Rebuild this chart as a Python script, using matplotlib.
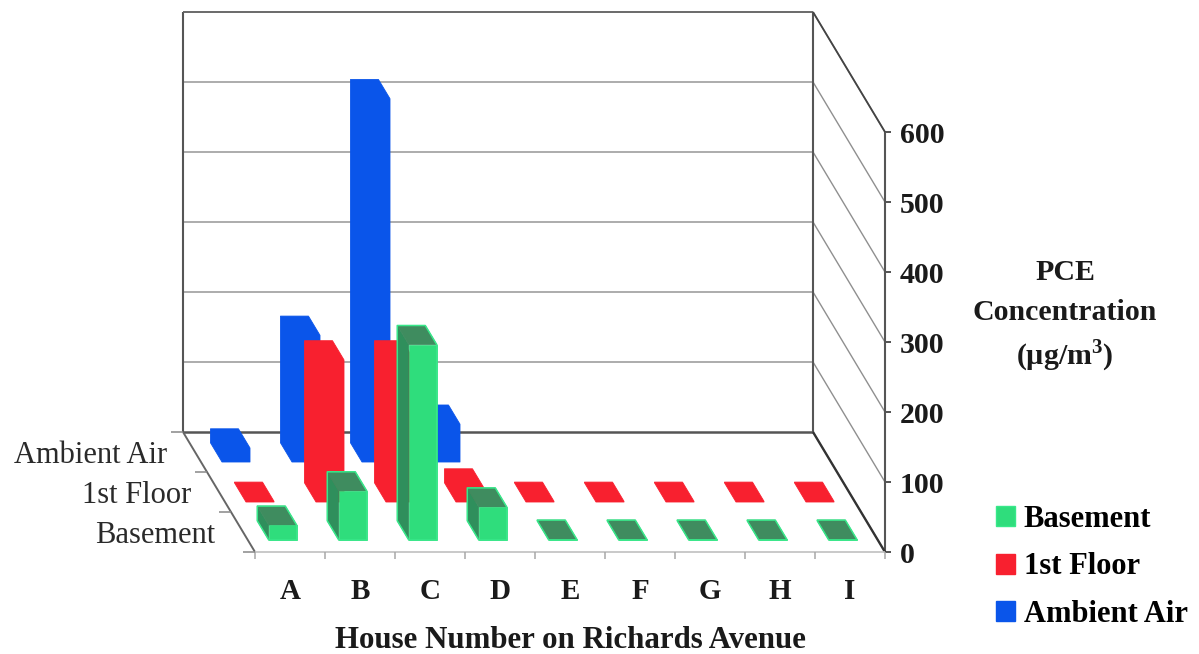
import matplotlib
matplotlib.use("Agg")
import matplotlib.pyplot as plt
from matplotlib.patches import Polygon, Patch

houses = ["A", "B", "C", "D", "E", "F", "G", "H", "I"]
rows = ["Basement", "1st Floor", "Ambient Air"]
basement = [21, 70, 279, 47, 1, 1, 1, 1, 1]
first_floor = [1, 203, 203, 20, 1, 1, 1, 1, 1]
ambient = [20, 181, 519, 54, 0, 0, 0, 0, 0]
y_ticks = [0, 100, 200, 300, 400, 500, 600]
y_label = ["PCE", "Concentration", "(µg/m$^{\\mathbf{3}}$)"]
x_label = "House Number on Richards Avenue"

W, H = 1199, 654
PX_X, PX_Y = 70.0, 0.7          # pixels per house / per µg/m3
DX, DY = -24 / PX_X, 40 / PX_Y  # shift, in data units, per depth row
NX, ND, YTOP = len(houses), len(rows), 600
FS = 21.5

plt.rcParams["font.family"] = ["Liberation Serif", "DejaVu Serif"]
plt.rcParams["mathtext.fontset"] = "custom"
plt.rcParams["mathtext.bf"] = "Liberation Serif:bold"
plt.rcParams["mathtext.rm"] = "Liberation Serif"

fig = plt.figure(figsize=(W / 100, H / 100), dpi=100)
ax = fig.add_axes([0, 0, 1, 1])
ax.set_xlim(-255 / PX_X, (W - 255) / PX_X)
ax.set_ylim(-(H - 552) / PX_Y, 552 / PX_Y)
ax.axis("off")


def pr(x, v, d):
    """Oblique projection of (house, value, depth) into the axes' data units."""
    return (x + DX * d, v + DY * d)


def line(p, q, color="#808080", lw=1.2, z=1):
    ax.plot([p[0], q[0]], [p[1], q[1]], color=color, lw=lw, zorder=z,
            solid_capstyle="butt")


# walls and gridlines
for t in y_ticks:
    line(pr(0, t, ND), pr(NX, t, ND), "#969696" if t else "#555555", 1.1 if t else 1.8)
    line(pr(NX, t, ND), pr(NX, t, 0), "#8f8f8f", 1.0)
    line(pr(NX, t, 0), pr(NX + 6 / PX_X, t, 0), "#444444", 1.3)
    ax.text(NX + 15 / PX_X, t - 5, str(t), fontsize=FS, fontweight="bold",
            ha="left", va="center", color="#1a1a1a", zorder=5)
line(pr(0, 0, ND), pr(0, YTOP, ND), "#555555", 1.5)
line(pr(NX, 0, ND), pr(NX, YTOP, ND), "#555555", 1.5)
line(pr(NX, 0, 0), pr(NX, YTOP, 0), "#555555", 1.5)
line(pr(0, YTOP, ND), pr(NX, YTOP, ND), "#666666", 1.3)
line(pr(NX, YTOP, ND), pr(NX, YTOP, 0), "#444444", 1.3)
line(pr(0, 0, ND), pr(0, 0, 0), "#666666", 1.4)
line(pr(NX, 0, ND), pr(NX, 0, 0), "#333333", 1.7)
line(pr(0, 0, 0), pr(NX, 0, 0), "#c0c0c0", 1.2)
for i in range(NX + 1):
    line(pr(i, 0, 0), pr(i, -10, 0), "#a8a8a8", 1.1)
for d in range(ND + 1):
    line(pr(0, 0, d), pr(-12 / PX_X, 0, d), "#888888", 1.1)

# bars, back row to front
W_BAR, D_BAR = 0.40, 0.48
FRONT = [0.30, 1.25, 2.25]
series = [ambient, first_floor, basement]
series_rows = [2, 1, 0]
faces = {
    0: dict(front="#2fdd7c", side="#2f8f5c", top="#3f8c5f", edge="#38e88a"),
    1: dict(front="#f8202f", side="#f8202f", top="#f8202f", edge="#f8202f"),
    2: dict(front="#0a55ea", side="#0a55ea", top="#0a55ea", edge="#0a55ea"),
}
for vals, r in zip(series, series_rows):
    c = faces[r]
    d0, d1 = FRONT[r], FRONT[r] + D_BAR
    z = 3 + (2 - r) * 0.1
    for i, v in enumerate(vals):
        if v <= 0:
            continue
        x0 = i + 0.5 - W_BAR / 2
        x1 = x0 + W_BAR
        outline = [pr(x0, 0, d0), pr(x1, 0, d0), pr(x1, v, d0), pr(x1, v, d1),
                   pr(x0, v, d1), pr(x0, 0, d1)]
        if r == 0:
            # left side, top, front (right side is hidden from this view)
            quads = [
                ([pr(x0, 0, d0), pr(x0, 0, d1), pr(x0, v, d1), pr(x0, v, d0)], c["side"]),
                ([pr(x0, v, d0), pr(x0, v, d1), pr(x1, v, d1), pr(x1, v, d0)], c["top"]),
                ([pr(x0, 0, d0), pr(x1, 0, d0), pr(x1, v, d0), pr(x0, v, d0)], c["front"]),
            ]
            for pts, col in quads:
                ax.add_patch(Polygon(pts, closed=True, facecolor=col, edgecolor=col,
                                     lw=0.5, joinstyle="round", zorder=z))
            ax.add_patch(Polygon(outline, closed=True, fill=False, edgecolor=c["edge"],
                                 lw=1.1, joinstyle="round", zorder=z + 0.01))
        else:
            ax.add_patch(Polygon(outline, closed=True, facecolor=c["front"],
                                 edgecolor=c["edge"], lw=0.6, joinstyle="round", zorder=z))

# category labels
for i, h in enumerate(houses):
    ax.text(i + 0.5, -56, h, fontsize=FS - 0.5, fontweight="bold", ha="center", va="center",
            color="#1a1a1a")
for d, name in zip([0.5, 1.5, 2.5], rows):
    px, pv = pr(0, 0, d)
    ax.text(px - 28 / PX_X, pv - 5, name, fontsize=22, ha="right", va="center", color="#2a2a2a")

ax.text((570 - 255) / PX_X, -(640 - 552) / PX_Y, x_label, fontsize=22.2, fontweight="bold",
        ha="center", va="center", color="#1a1a1a")
for py, s in zip([272, 312, 356], y_label):
    ax.text((1065 - 255) / PX_X, (552 - py) / PX_Y, s, fontsize=FS, fontweight="bold",
            ha="center", va="center", color="#1a1a1a")

handles = [Patch(facecolor=faces[r]["front"], edgecolor=faces[r]["edge"]) for r in range(3)]
ax.legend(handles, rows, loc="upper left", bbox_to_anchor=(996 / W, 1 - 505 / H),
          bbox_transform=ax.transAxes, frameon=False, handlelength=0.63, handleheight=0.63,
          handletextpad=0.27, labelspacing=0.6, borderpad=0, borderaxespad=0,
          prop=dict(family="Liberation Serif", weight="bold", size=22))

fig.savefig("out.png", dpi=100)
